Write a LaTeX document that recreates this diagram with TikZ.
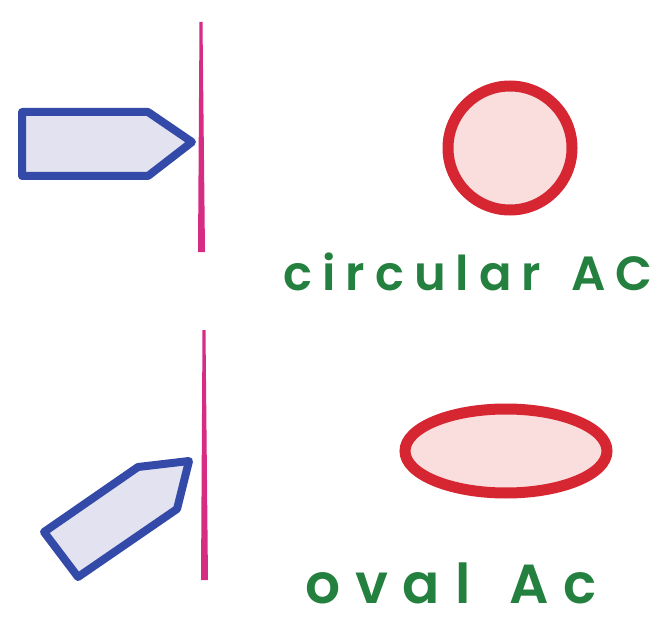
\documentclass[tikz,border=0pt]{standalone}
\usepackage{fontspec}
\setmainfont{Poppins}
\newfontfamily\handfont[LetterSpace=21,WordSpace=1.4]{Poppins SemiBold}
\newfontfamily\widehandfont[LetterSpace=27,WordSpace=1.4]{Poppins SemiBold}
\usetikzlibrary{positioning,shapes.geometric}
\definecolor{penblue}{RGB}{52,74,168}
\definecolor{lavender}{RGB}{226,226,240}
\definecolor{screenpink}{RGB}{214,44,132}
\definecolor{spotred}{RGB}{214,38,50}
\definecolor{spotfill}{RGB}{250,222,222}
\definecolor{labelgreen}{RGB}{36,128,62}
\tikzset{
  probe/.style={draw=penblue,fill=lavender,line width=8pt,line join=round},
  screen/.style={fill=screenpink},
  spot/.style={draw=spotred,fill=spotfill,line width=11pt,inner sep=0pt},
  tag/.style={text=labelgreen,inner sep=0pt,anchor=base west}
}
\begin{document}
\begin{tikzpicture}[x=1pt,y=-1pt]
\useasboundingbox (0,0) rectangle (662,623);
% top: beam hits the screen straight on
\fill[screen] (199.5,22) -- (202.5,22) -- (205,252) -- (198,252) -- cycle;
\draw[probe] (22,112) -- (148,112) -- (192,142) -- (148,176) -- (22,176) -- cycle;
\node[spot,circle,minimum size=124pt] (round) at (510,148) {};
\node[tag,font=\handfont\fontsize{48}{48}\selectfont] (roundtxt) at (283,290) {circular AC};
% bottom: beam hits the screen at an angle
\fill[screen] (202.5,330) -- (205.5,330) -- (208,580) -- (201,580) -- cycle;
\draw[probe] (44,532) -- (138,467) -- (189,461) -- (177,509) -- (78,577) -- cycle;
\node[spot,ellipse,minimum width=202pt,minimum height=84pt] (oval) at (506,451) {};
\node[tag,font=\widehandfont\fontsize{55}{55}\selectfont] (ovaltxt) at (305,603) {oval Ac};
\end{tikzpicture}
\end{document}
